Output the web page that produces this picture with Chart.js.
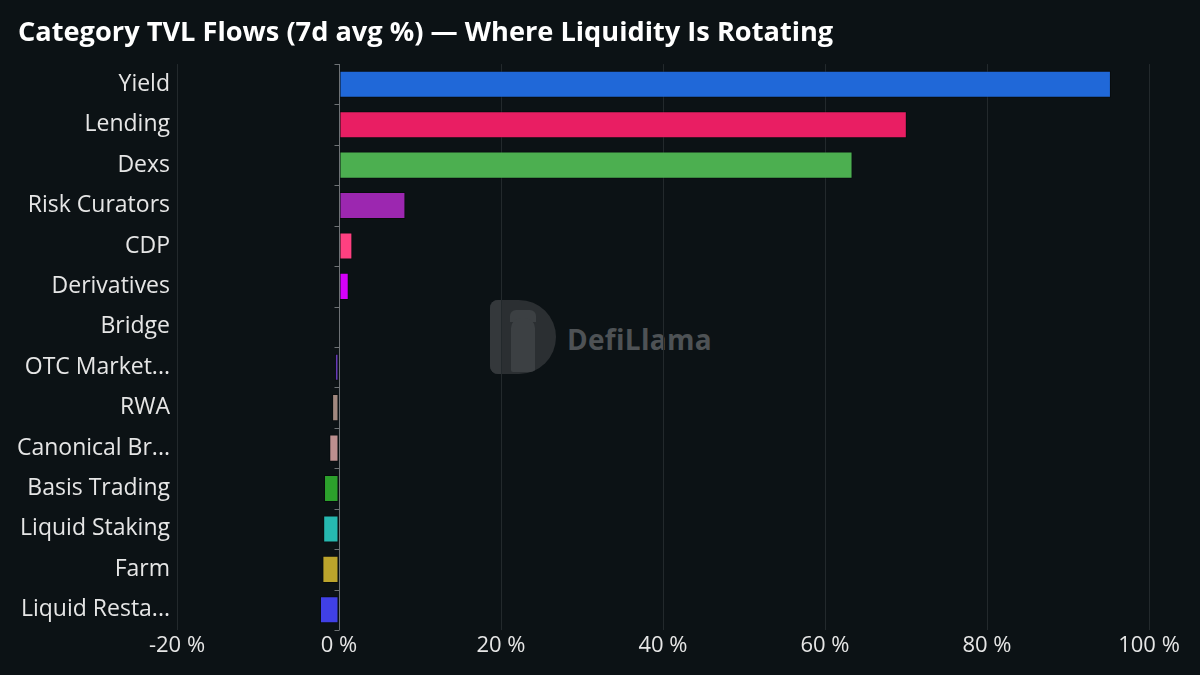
<!DOCTYPE html>
<html>
<head>
<meta charset="utf-8">
<script src="https://cdn.jsdelivr.net/npm/chart.js@4.4.1/dist/chart.umd.min.js"></script>
<style>
  html, body { margin: 0; padding: 0; background: #0c1215; }
  #wrap { position: relative; width: 1200px; height: 675px; background: #0c1215; overflow: hidden; }
  canvas { position: absolute; left: 0; top: 0; }
  #wm { position: absolute; left: 490px; top: 300px; width: 240px; height: 76px; pointer-events: none; z-index: 0; }
  #wm .logo { position: absolute; left: 0; top: 0; width: 66px; height: 74px; background: #2b2f32; border-radius: 8px 37px 37px 8px; overflow: hidden; }
  #wm .logo .hl { position: absolute; left: 0; top: 0; width: 12px; height: 74px; background: #34383b; }
  #wm .logo .ears { position: absolute; left: 20px; top: 10px; width: 26px; height: 12px; background: #3c4043; border-radius: 6px 6px 0 0; }
  #wm .logo .lm { position: absolute; left: 21px; top: 18px; width: 24px; height: 54px; background: #3c4043; border-radius: 10px 10px 2px 2px; }
  #wm .txt { position: absolute; left: 77px; top: 20px; font-family: "Open Sans", sans-serif; font-weight: 700; font-size: 28px; color: #4e5255; letter-spacing: 0.3px; }
</style>
</head>
<body>
<div id="wrap">
  <div id="wm"><div class="logo"><div class="hl"></div><div class="ears"></div><div class="lm"></div></div><div class="txt">DefiLlama</div></div>
  <canvas id="c" width="1200" height="675"></canvas>
</div>
<script>
const titleText = "Category TVL Flows (7d avg %) — Where Liquidity Is Rotating";
const categories = ["Yield", "Lending", "Dexs", "Risk Curators", "CDP", "Derivatives", "Bridge", "OTC Market...", "RWA", "Canonical Br...", "Basis Trading", "Liquid Staking", "Farm", "Liquid Resta..."];
const flowValues = [95.3, 70.1, 63.4, 8.2, 1.65, 1.2, 0.05, -0.5, -0.85, -1.2, -1.85, -1.95, -2.05, -2.35];
const barColors = ["#2068d8", "#e91e63", "#4caf50", "#9c27b0", "#ff4081", "#d500f9", "#a0522d", "#673ab7", "#a1887f", "#bc8f8f", "#2ca02c", "#26b8b0", "#bca42c", "#4040e6"];
const xTicks = [-20, 0, 20, 40, 60, 80, 100];

const zeroAxis = {
  id: 'zeroAxis',
  afterDatasetsDraw(chart) {
    const ctx = chart.ctx;
    const xs = chart.scales.x, ys = chart.scales.y;
    const x0 = Math.round(xs.getPixelForValue(0)) + 0.5;
    const area = chart.chartArea;
    ctx.save();
    ctx.strokeStyle = '#6e7275';
    ctx.lineWidth = 1;
    ctx.beginPath();
    ctx.moveTo(x0, area.top);
    ctx.lineTo(x0, area.bottom);
    const n = categories.length;
    for (let i = 0; i <= n; i++) {
      const y = Math.round(ys.getPixelForValue(i - 0.5)) + 0.5;
      ctx.moveTo(x0 - 5, y);
      ctx.lineTo(x0, y);
    }
    ctx.stroke();
    ctx.restore();
  }
};

new Chart(document.getElementById('c'), {
  type: 'bar',
  data: {
    labels: categories,
    datasets: [{
      data: flowValues,
      backgroundColor: barColors,
      borderColor: 'rgba(0,0,0,0.35)',
      borderWidth: 1,
      borderSkipped: false,
      categoryPercentage: 1,
      barPercentage: 0.67
    }]
  },
  options: {
    indexAxis: 'y',
    responsive: false,
    animation: false,
    devicePixelRatio: 1,
    layout: { padding: { left: 18, right: 51, top: 0, bottom: 0 } },
    plugins: {
      legend: { display: false },
      tooltip: { enabled: false },
      title: {
        display: true,
        text: titleText,
        align: 'start',
        color: '#ffffff',
        font: { family: '"Open Sans", sans-serif', size: 27.2, weight: 'bold', lineHeight: 1.2 },
        padding: { top: 17, bottom: 14.4 }
      }
    },
    scales: {
      x: {
        type: 'linear',
        min: -20,
        max: 100,
        afterBuildTicks(scale) { scale.ticks = xTicks.map(v => ({ value: v })); },
        afterFit(scale) { scale.height = 45; },
        grid: { color: '#23292c', lineWidth: 1, drawTicks: false },
        border: { display: false },
        ticks: {
          color: '#e6e6e6',
          padding: 3,
          font: { family: '"Open Sans", sans-serif', size: 22 },
          callback: v => v + ' %'
        }
      },
      y: {
        afterFit(scale) { scale.width = 159; },
        grid: { display: false, drawTicks: false },
        border: { display: false },
        ticks: {
          color: '#e6e6e6',
          padding: 7,
          autoSkip: false,
          font: { family: '"Open Sans", sans-serif', size: 23 }
        }
      }
    }
  },
  plugins: [zeroAxis]
});
</script>
</body>
</html>
